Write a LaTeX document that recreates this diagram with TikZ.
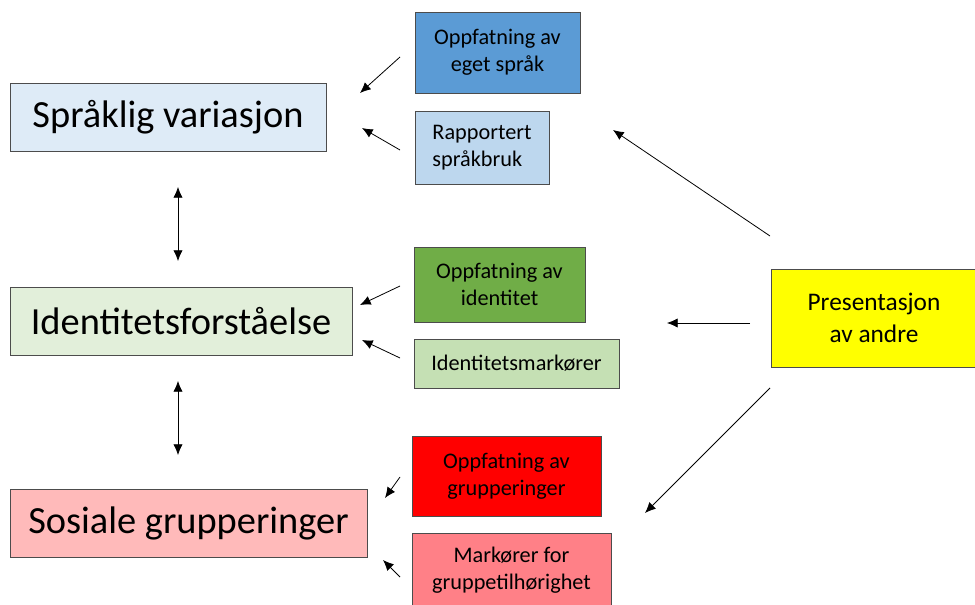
\documentclass[tikz,border=0pt]{standalone}
\usepackage{fontspec}
\setmainfont{Carlito}
\usepackage{xcolor}
\usepackage{tikz}
\usetikzlibrary{arrows.meta}
\definecolor{sprakfill}{HTML}{DEEBF7}
\definecolor{identfill}{HTML}{E2EFDA}
\definecolor{sosialfill}{HTML}{FFBABA}
\definecolor{bluedark}{HTML}{5B9BD5}
\definecolor{bluelight}{HTML}{BDD7EE}
\definecolor{greendark}{HTML}{70AD47}
\definecolor{greenlight}{HTML}{C5E0B4}
\definecolor{reddark}{HTML}{FF0000}
\definecolor{redlight}{HTML}{FF8087}
\definecolor{presfill}{HTML}{FFFF00}
\tikzset{
  mainbox/.style={draw=black!70,line width=0.6pt,inner sep=2pt,minimum height=51pt,font=\fontsize{28.8}{34}\selectfont},
  subbox/.style={draw=black!70,line width=0.6pt,inner sep=2pt,align=center,font=\fontsize{16.7}{20}\selectfont},
  link/.style={line width=0.6pt,-{Latex[length=8pt,width=7pt]}},
  twoway/.style={line width=0.6pt,{Latex[length=8pt,width=7pt]}-{Latex[length=8pt,width=7pt]}}
}

\begin{document}
\begin{tikzpicture}[x=0.75pt,y=-0.75pt]
  \useasboundingbox (0,0) rectangle (975,605);
  \node[mainbox,fill=sprakfill,minimum width=237pt] (sprak) at (168,117) {Språklig variasjon};
  \node[mainbox,fill=identfill,minimum width=256.5pt] (ident) at (181,321) {Identitetsforståelse};
  \node[mainbox,fill=sosialfill,minimum width=267.75pt] (sosial) at (188.5,523) {Sosiale grupperinger};

  \node[subbox,fill=bluedark,minimum width=123.75pt,minimum height=60.75pt] (oppsprak) at (497.5,52.5) {Oppfatning av\\eget språk};
  \node[subbox,fill=bluelight,minimum width=100.5pt,minimum height=54.75pt,align=left] (rapport) at (482,147.5) {Rapportert\\språkbruk};
  \node[subbox,fill=greendark,minimum width=128.25pt,minimum height=56.25pt] (oppident) at (499.5,284.5) {Oppfatning av\\identitet};
  \node[subbox,fill=greenlight,minimum width=153.75pt,minimum height=36.75pt] (markident) at (516.5,363.5) {Identitetsmarkører};
  \node[subbox,fill=reddark,minimum width=141.75pt,minimum height=60pt] (oppgrupp) at (506.5,476) {Oppfatning av\\grupperinger};
  \node[subbox,fill=redlight,minimum width=149.25pt,minimum height=56.25pt] (markgrupp) at (511.5,570.5) {Markører for\\gruppetilhørighet};

  \node[subbox,fill=presfill,minimum width=154.5pt,minimum height=73.5pt,font=\fontsize{19}{24}\selectfont] (pres) at (874,318) {Presentasjon\\av andre};

  \coordinate (a1) at (400,57);  \coordinate (b1) at (360,93);
  \coordinate (a2) at (400,150); \coordinate (b2) at (362,128);
  \coordinate (a3) at (400,286); \coordinate (b3) at (360,305);
  \coordinate (a4) at (400,358); \coordinate (b4) at (362,340);
  \coordinate (a5) at (400,477); \coordinate (b5) at (385,498);
  \coordinate (a6) at (400,577); \coordinate (b6) at (383,560);
  \coordinate (p1) at (770,236); \coordinate (q1) at (613,130);
  \coordinate (p2) at (750,323); \coordinate (q2) at (667,323);
  \coordinate (p3) at (770,388); \coordinate (q3) at (645,513);
  \coordinate (u1) at (178,187); \coordinate (v1) at (178,261);
  \coordinate (u2) at (178,381); \coordinate (v2) at (178,455);

  \draw[link] (a1) -- (b1);
  \draw[link] (a2) -- (b2);
  \draw[link] (a3) -- (b3);
  \draw[link] (a4) -- (b4);
  \draw[link] (a5) -- (b5);
  \draw[link] (a6) -- (b6);
  \draw[link] (p1) -- (q1);
  \draw[link] (p2) -- (q2);
  \draw[link] (p3) -- (q3);
  \draw[twoway] (u1) -- (v1);
  \draw[twoway] (u2) -- (v2);
\end{tikzpicture}
\end{document}
